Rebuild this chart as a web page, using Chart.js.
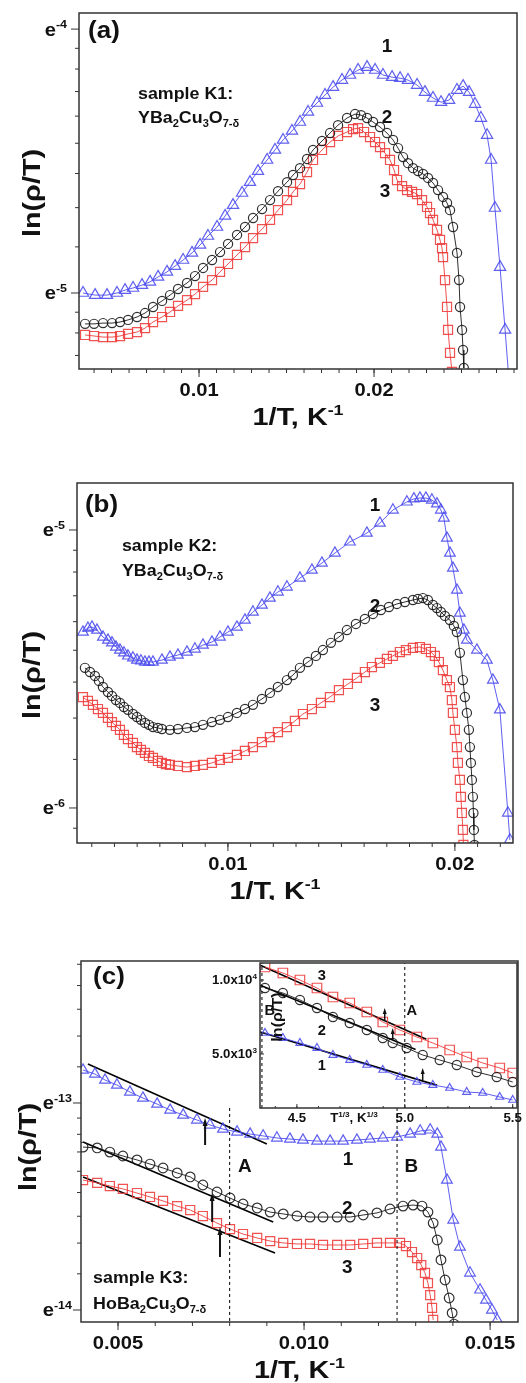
<!DOCTYPE html>
<html><head><meta charset="utf-8">
<script src="https://cdn.jsdelivr.net/npm/chart.js@4.4.0/dist/chart.umd.min.js"></script>
<style>
html,body{margin:0;padding:0;background:#fff;}
#wrap{position:relative;width:526px;height:1383px;overflow:hidden;background:#fff;}
canvas{position:absolute;}
</style></head><body>
<div id="wrap">
<canvas id="ca" width="526" height="430" style="left:0;top:0"></canvas>
<canvas id="cb" width="526" height="470" style="left:0;top:430px"></canvas>
<canvas id="cc" width="526" height="483" style="left:0;top:900px"></canvas>
<canvas id="ci" width="336" height="180" style="left:190px;top:955px"></canvas>
</div>
<script>
// ---------------- DATA ----------------
// Panel (a): sample K1, y = ln(rho/T) exponent
const a1x = [0.00337,0.00406,0.00474,0.00531,0.00577,0.00623,0.00674,0.0072,0.00766,0.00817,0.00863,0.00909,0.0096,0.01006,0.01051,0.01103,0.01149,0.01194,0.01246,0.01291,0.01337,0.01389,0.01434,0.0148,0.01531,0.01577,0.01623,0.01674,0.0172,0.01766,0.01817,0.01863,0.01909,0.0196,0.02006,0.02051,0.02103,0.02149,0.02194,0.02246,0.02291,0.02337,0.02383,0.02429,0.02474,0.02509,0.02543,0.02577,0.02611,0.02646,0.02669,0.02691,0.0272,0.02749,0.02771];
const a1y = [-5.000,-5.008,-5.008,-5.000,-4.989,-4.981,-4.970,-4.958,-4.939,-4.920,-4.898,-4.875,-4.848,-4.818,-4.784,-4.750,-4.708,-4.667,-4.621,-4.580,-4.538,-4.496,-4.458,-4.420,-4.386,-4.352,-4.314,-4.280,-4.250,-4.220,-4.193,-4.174,-4.155,-4.144,-4.155,-4.174,-4.182,-4.186,-4.193,-4.212,-4.239,-4.261,-4.277,-4.269,-4.231,-4.216,-4.239,-4.284,-4.337,-4.402,-4.496,-4.678,-4.902,-5.140,-5.330];
const a2x = [0.003486,0.004,0.004514,0.005029,0.005486,0.005943,0.006457,0.006914,0.007371,0.007886,0.008343,0.0088,0.009314,0.009771,0.010229,0.010743,0.0112,0.011657,0.012171,0.012629,0.013086,0.0136,0.014057,0.014514,0.015029,0.015371,0.015771,0.016171,0.016514,0.017029,0.017486,0.017943,0.018457,0.018914,0.019257,0.0196,0.019943,0.020343,0.020743,0.021086,0.021371,0.021657,0.021943,0.022229,0.022514,0.0228,0.023086,0.023371,0.023657,0.023943,0.024171,0.024343,0.024514,0.024743,0.024857,0.024914,0.025029,0.025086,0.02513];
const a2y = [-5.117,-5.117,-5.114,-5.114,-5.110,-5.102,-5.091,-5.076,-5.053,-5.030,-5.008,-4.985,-4.962,-4.936,-4.905,-4.875,-4.845,-4.814,-4.780,-4.750,-4.716,-4.682,-4.648,-4.614,-4.580,-4.553,-4.527,-4.492,-4.458,-4.424,-4.394,-4.364,-4.337,-4.322,-4.326,-4.337,-4.352,-4.371,-4.394,-4.420,-4.451,-4.485,-4.508,-4.527,-4.538,-4.549,-4.564,-4.583,-4.610,-4.636,-4.659,-4.686,-4.750,-4.848,-4.951,-5.053,-5.140,-5.216,-5.284];
const a3x = [0.003486,0.004,0.004514,0.005029,0.005486,0.005943,0.006457,0.006914,0.007371,0.007886,0.008343,0.0088,0.009314,0.009771,0.010229,0.010743,0.0112,0.011657,0.012171,0.012629,0.013086,0.0136,0.014057,0.014514,0.015029,0.015371,0.015771,0.016171,0.016514,0.017029,0.017486,0.017943,0.018457,0.0188,0.019086,0.019429,0.019771,0.020057,0.020343,0.020629,0.020914,0.021143,0.021314,0.0216,0.021886,0.022171,0.022457,0.022743,0.023029,0.0232,0.023371,0.0236,0.023771,0.023886,0.023943,0.024057,0.024171,0.024229,0.024343,0.024457];
const a3y = [-5.159,-5.163,-5.167,-5.167,-5.163,-5.155,-5.148,-5.133,-5.110,-5.091,-5.072,-5.049,-5.027,-5.004,-4.977,-4.951,-4.920,-4.890,-4.856,-4.826,-4.792,-4.758,-4.723,-4.686,-4.648,-4.617,-4.587,-4.542,-4.496,-4.458,-4.428,-4.405,-4.390,-4.379,-4.375,-4.390,-4.409,-4.428,-4.447,-4.470,-4.496,-4.534,-4.572,-4.595,-4.610,-4.617,-4.625,-4.648,-4.674,-4.697,-4.723,-4.761,-4.799,-4.830,-4.864,-4.951,-5.053,-5.140,-5.227,-5.299];

// Panel (b): sample K2
const b1x = [0.003612,0.003833,0.004009,0.004229,0.004493,0.004714,0.00489,0.005066,0.005242,0.005419,0.005595,0.005815,0.005991,0.006167,0.006344,0.00652,0.006696,0.007093,0.007445,0.007797,0.008194,0.008546,0.008899,0.009295,0.009648,0.01,0.010396,0.010749,0.011101,0.011498,0.01185,0.012203,0.012599,0.013172,0.0137,0.014141,0.014714,0.015374,0.016123,0.016696,0.017269,0.017885,0.018194,0.018458,0.018722,0.018987,0.019207,0.019383,0.019515,0.019648,0.01978,0.019912,0.020088,0.02022,0.020396,0.020529,0.020969,0.02141,0.021674,0.021982,0.022335,0.022423];
const b1y = [-5.367,-5.353,-5.349,-5.360,-5.385,-5.396,-5.406,-5.421,-5.432,-5.442,-5.453,-5.460,-5.468,-5.471,-5.475,-5.475,-5.475,-5.468,-5.457,-5.450,-5.439,-5.428,-5.414,-5.403,-5.385,-5.367,-5.349,-5.324,-5.295,-5.270,-5.245,-5.223,-5.205,-5.173,-5.144,-5.119,-5.083,-5.043,-5.011,-4.975,-4.928,-4.899,-4.888,-4.885,-4.885,-4.892,-4.906,-4.928,-4.957,-5.029,-5.083,-5.137,-5.216,-5.299,-5.360,-5.396,-5.432,-5.468,-5.540,-5.647,-6.018,-6.115];
const b2x = [0.0037,0.003921,0.004141,0.004317,0.004493,0.004714,0.00489,0.005066,0.005242,0.005419,0.005595,0.005815,0.005991,0.006167,0.006344,0.00652,0.006696,0.006916,0.007093,0.007445,0.007797,0.008194,0.008546,0.008899,0.009295,0.009648,0.01,0.010396,0.010749,0.011101,0.011498,0.01185,0.012203,0.012599,0.012863,0.013172,0.013524,0.013877,0.014185,0.014537,0.01489,0.015242,0.015639,0.016035,0.016388,0.01674,0.017093,0.017445,0.017797,0.01815,0.01837,0.01859,0.018811,0.019031,0.019207,0.019383,0.01956,0.01978,0.019956,0.020088,0.02022,0.020352,0.02044,0.020529,0.020617,0.020661,0.020705,0.020749,0.020793,0.020815,0.020837,0.02086];
const b2y = [-5.496,-5.511,-5.525,-5.543,-5.565,-5.583,-5.597,-5.612,-5.622,-5.637,-5.647,-5.662,-5.673,-5.683,-5.694,-5.701,-5.709,-5.712,-5.716,-5.719,-5.716,-5.712,-5.709,-5.701,-5.691,-5.683,-5.673,-5.658,-5.644,-5.629,-5.608,-5.586,-5.565,-5.540,-5.522,-5.496,-5.475,-5.453,-5.432,-5.406,-5.385,-5.360,-5.338,-5.320,-5.302,-5.288,-5.277,-5.266,-5.259,-5.252,-5.248,-5.245,-5.252,-5.270,-5.281,-5.295,-5.309,-5.324,-5.345,-5.367,-5.442,-5.540,-5.601,-5.658,-5.719,-5.781,-5.838,-5.899,-5.960,-6.018,-6.079,-6.133];
const b3x = [0.003612,0.003833,0.004053,0.004273,0.004493,0.004714,0.00489,0.005066,0.005242,0.005419,0.005595,0.005815,0.005991,0.006167,0.006344,0.00652,0.006696,0.006916,0.007093,0.007269,0.007445,0.007797,0.008194,0.008546,0.008899,0.009295,0.009648,0.01,0.010396,0.010749,0.011101,0.011498,0.01185,0.012203,0.012599,0.012952,0.013304,0.0137,0.014097,0.014493,0.01489,0.015286,0.015683,0.016035,0.016344,0.016696,0.017004,0.017269,0.017577,0.017841,0.01815,0.018458,0.018722,0.018943,0.019119,0.019295,0.019471,0.019648,0.01978,0.019868,0.019912,0.02,0.020088,0.020132,0.02022,0.020264,0.020308,0.020352,0.020374];
const b3y = [-5.601,-5.615,-5.629,-5.644,-5.658,-5.676,-5.691,-5.705,-5.719,-5.737,-5.752,-5.766,-5.781,-5.791,-5.802,-5.813,-5.820,-5.831,-5.838,-5.842,-5.845,-5.849,-5.853,-5.849,-5.845,-5.838,-5.827,-5.820,-5.809,-5.795,-5.781,-5.763,-5.745,-5.727,-5.709,-5.687,-5.662,-5.644,-5.622,-5.601,-5.576,-5.554,-5.532,-5.511,-5.493,-5.478,-5.464,-5.453,-5.439,-5.432,-5.424,-5.421,-5.428,-5.439,-5.453,-5.475,-5.504,-5.540,-5.565,-5.612,-5.658,-5.719,-5.781,-5.838,-5.899,-5.960,-6.018,-6.079,-6.133];

// Panel (c): sample K3
const c1x = [0.00406,0.00438,0.00465,0.00497,0.00532,0.00567,0.00605,0.0064,0.00675,0.00712,0.00747,0.00782,0.0082,0.00855,0.0089,0.00927,0.00962,0.00997,0.01035,0.0107,0.01105,0.01142,0.01177,0.01212,0.0125,0.01285,0.01312,0.01339,0.01358,0.01368,0.01384,0.01401,0.01419,0.01446,0.01473,0.01489,0.01505,0.01519];
const c1y = [-12.841,-12.860,-12.889,-12.913,-12.947,-12.976,-13.005,-13.034,-13.058,-13.082,-13.106,-13.126,-13.140,-13.150,-13.159,-13.169,-13.174,-13.179,-13.184,-13.184,-13.184,-13.179,-13.174,-13.169,-13.164,-13.150,-13.135,-13.130,-13.150,-13.213,-13.372,-13.565,-13.696,-13.821,-13.903,-13.952,-14.0,-14.048];
const c2x = [0.00406,0.00444,0.00478,0.00513,0.00551,0.00586,0.00621,0.00659,0.00694,0.00728,0.00766,0.00801,0.00836,0.00874,0.00909,0.00944,0.00981,0.01016,0.01051,0.01089,0.01124,0.01159,0.01196,0.01231,0.01266,0.01293,0.01317,0.01333,0.01347,0.01358,0.01368,0.01379,0.0139,0.01398,0.01403];
const c2y = [-13.213,-13.217,-13.237,-13.256,-13.275,-13.295,-13.314,-13.338,-13.357,-13.396,-13.430,-13.459,-13.488,-13.507,-13.527,-13.536,-13.546,-13.551,-13.551,-13.551,-13.551,-13.541,-13.531,-13.512,-13.498,-13.493,-13.498,-13.527,-13.580,-13.662,-13.758,-13.855,-13.942,-14.014,-14.068];
const c3x = [0.00406,0.00444,0.00478,0.00513,0.00551,0.00586,0.00621,0.00659,0.00694,0.00728,0.00766,0.00801,0.00836,0.00874,0.00909,0.00944,0.00981,0.01016,0.01051,0.01089,0.01124,0.01159,0.01196,0.01231,0.01258,0.01274,0.0129,0.01304,0.01315,0.01325,0.01333,0.01339,0.01344,0.01347];
const c3y = [-13.372,-13.386,-13.401,-13.415,-13.435,-13.454,-13.473,-13.498,-13.517,-13.546,-13.580,-13.609,-13.633,-13.652,-13.667,-13.676,-13.681,-13.681,-13.686,-13.686,-13.686,-13.681,-13.676,-13.676,-13.676,-13.691,-13.720,-13.749,-13.783,-13.821,-13.870,-13.928,-13.990,-14.048];
// linear fits in (c)
const cFit1x = [0.00419, 0.0090], cFit1y = [-12.812, -13.198];
const cFit2x = [0.00406, 0.00917], cFit2y = [-13.188, -13.575];
const cFit3x = [0.00406, 0.00922], cFit3y = [-13.357, -13.725];
const cMarkA = 0.008, cMarkB = 0.0125;

// Inset of (c)
const i1x = [4.352,4.435,4.514,4.593,4.667,4.745,4.824,4.898,4.977,5.056,5.130,5.208,5.287,5.361,5.440,5.500];
const i1y = [6419,6081,5743,5405,4932,4594,4257,3919,3446,3108,2905,2703,2432,2365,2095,1892];
const i2x = [4.352,4.435,4.514,4.593,4.667,4.745,4.824,4.898,4.944,5.009,5.083,5.162,5.241,5.333,5.426,5.500];
const i2y = [9459,9122,8649,8108,7500,7095,6622,6081,5743,5405,4932,4594,4257,3784,3446,3108];
const i3x = [4.352,4.435,4.514,4.593,4.667,4.745,4.824,4.898,4.977,5.056,5.130,5.208,5.287,5.361,5.440,5.500];
const i3y = [10878,10473,10000,9459,8851,8446,7838,7162,6622,6149,5743,5270,4797,4392,4054,3716];
const iFit1x = [4.33, 5.15], iFit1y = [6480, 2880];
const iFit2x = [4.33, 5.05], iFit2y = [9650, 5300];
const iFit3x = [4.33, 5.10], iFit3y = [11000, 6000];
const iMarkA = 5.0, iMarkB = 4.338;

// axis ticks
const aXTicks = [0.01, 0.02], aXLabels = ['0.01', '0.02'], aYExp = [-5, -4];
const bXTicks = [0.01, 0.02], bXLabels = ['0.01', '0.02'], bYExp = [-6, -5];
const cXTicks = [0.005, 0.010, 0.015], cXLabels = ['0.005', '0.010', '0.015'], cYExp = [-14, -13];
const iXTicks = [4.5, 5.0, 5.5], iXLabels = ['4.5', '5.0', '5.5'];
const iYTicks = [5000, 10000], iYMant = ['5.0x10', '1.0x10'], iYPow = ['3', '4'];

// ---------------- DRAWING HELPERS ----------------
const FONT = '"Liberation Sans", Arial, Helvetica, sans-serif';
function rich(ctx, parts, x, y, o) {
  const size = o.size, w = o.weight || 'bold', sx = o.sx || 1;
  ctx.save();
  ctx.translate(x, y);
  if (o.rot) ctx.rotate(o.rot);
  ctx.scale(sx, 1);
  ctx.fillStyle = o.color || '#111';
  ctx.textBaseline = 'alphabetic';
  const segs = parts.map(p => {
    const fs = p[1] ? size * 0.62 : size;
    ctx.font = w + ' ' + fs + 'px ' + FONT;
    return { t: p[0], m: p[1], fs, w: ctx.measureText(p[0]).width };
  });
  const total = segs.reduce((s, g) => s + g.w, 0);
  let cx = o.align === 'center' ? -total / 2 : o.align === 'right' ? -total : 0;
  const base = size * 0.36;
  for (const g of segs) {
    ctx.font = w + ' ' + g.fs + 'px ' + FONT;
    const dy = g.m === 1 ? -size * 0.42 : g.m === -1 ? size * 0.24 : 0;
    ctx.fillText(g.t, cx, base + dy);
    cx += g.w;
  }
  ctx.restore();
}
const expLabel = n => [['e', 0], ['-' + (-n), 1]];
const formula = (pre) => [[pre, 0], ['2', -1], ['Cu', 0], ['3', -1], ['O', 0], ['7-\u03b4', -1]];

const cfgs = {};
const decor = {
  id: 'decor',
  afterDraw(chart) {
    const c = cfgs[chart.canvas.id]; if (!c) return;
    const ctx = chart.ctx, a = chart.chartArea, X = chart.scales.x, Y = chart.scales.y;
    ctx.save();
    ctx.strokeStyle = '#333'; ctx.lineWidth = c.frameW;
    ctx.strokeRect(a.left, a.top, a.right - a.left, a.bottom - a.top);
    ctx.lineWidth = 1;
    const s = c.tickOut ? 1 : -1;
    const xt = (v, len) => { const p = X.getPixelForValue(v); if (p < a.left - 0.5 || p > a.right + 0.5) return; ctx.beginPath(); ctx.moveTo(p, a.bottom); ctx.lineTo(p, a.bottom + s * len); ctx.stroke(); };
    const yt = (v, len) => { const p = Y.getPixelForValue(v); if (p < a.top - 0.5 || p > a.bottom + 0.5) return; ctx.beginPath(); ctx.moveTo(a.left, p); ctx.lineTo(a.left - s * len, p); ctx.stroke(); };
    if (c.xMinorStep) { const st = c.xMinorStep; for (let k = Math.ceil(X.min / st - 1e-9); k * st <= X.max + 1e-12; k++) xt(k * st, c.minorLen); }
    c.xMajor.forEach(v => xt(v, c.majorLen));
    if (c.yLogMinor) {
      for (let n = Math.floor(Y.min); n <= Math.ceil(Y.max); n++) {
        const lo = Math.exp(n), hi = Math.exp(n + 1);
        for (let k = 1; k < 9; k++) yt(Math.log(lo + k * (hi - lo) / 9), c.minorLen);
      }
    }
    c.yMajor.forEach(v => yt(v, c.majorLen));
    const tf = { size: c.tickSize, sx: c.tickSx };
    c.xMajor.forEach((v, i) => rich(ctx, [[c.xLabels[i], 0]], X.getPixelForValue(v), a.bottom + c.xLabelDy, Object.assign({ align: 'center' }, tf)));
    c.yMajor.forEach((v, i) => rich(ctx, c.yLabels[i], a.left - c.yLabelDx, Y.getPixelForValue(v), Object.assign({ align: 'right' }, tf)));
    rich(ctx, c.xTitle, c.xTitleX != null ? c.xTitleX : (a.left + a.right) / 2, a.bottom + c.xTitleDy, { size: c.titleSize, sx: c.titleSx, align: 'center' });
    rich(ctx, c.yTitle, c.yTitleX, c.yTitleY != null ? c.yTitleY : (a.top + a.bottom) / 2, { size: c.yTitleSize || c.titleSize, sx: c.yTitleSx || c.titleSx, align: 'center', rot: -Math.PI / 2 });
    c.texts.forEach(t => rich(ctx, t.parts, X.getPixelForValue(t.x), Y.getPixelForValue(t.y), t));
    (c.arrows || []).forEach(ar => {
      const px = X.getPixelForValue(ar.x), y0 = Y.getPixelForValue(ar.y0), y1 = Y.getPixelForValue(ar.y1);
      ctx.strokeStyle = '#111'; ctx.fillStyle = '#111'; ctx.lineWidth = ar.w;
      ctx.beginPath(); ctx.moveTo(px, y0); ctx.lineTo(px, y1 + ar.head); ctx.stroke();
      ctx.beginPath(); ctx.moveTo(px, y1); ctx.lineTo(px - ar.hw, y1 + ar.head + 1); ctx.lineTo(px + ar.hw, y1 + ar.head + 1); ctx.closePath(); ctx.fill();
    });
    ctx.restore();
  }
};

const pts = (xs, ys) => xs.map((x, i) => ({ x, y: ys[i] }));
const STY = {
  blue: { ps: 'triangle', r: 6.5, col: 'rgba(78,78,238,0.9)' },
  black: { ps: 'circle', r: 4.6, col: 'rgba(25,25,25,0.9)' },
  red: { ps: 'rect', r: 6.4, col: 'rgba(238,62,62,0.9)' }
};
function series(xs, ys, kind, k) {
  const s = STY[kind];
  return { data: pts(xs, ys), showLine: true, borderWidth: 1, borderColor: s.col, pointBorderColor: s.col,
    pointBackgroundColor: 'rgba(0,0,0,0)', pointStyle: s.ps, pointRadius: s.r * (k || 1), pointBorderWidth: 1.2, tension: 0 };
}
function guide(xs, ys, dash) {
  return { data: pts(xs, ys), showLine: true, borderColor: '#000', borderWidth: dash ? 1 : 1.6, borderDash: dash ? [3, 3] : [], pointRadius: 0 };
}
function makeChart(id, datasets, xr, yr, area, W, H) {
  return new Chart(document.getElementById(id), {
    type: 'scatter',
    data: { datasets },
    options: {
      responsive: false, animation: false, devicePixelRatio: 1,
      layout: { padding: { left: 0, top: area.top, right: W - area.right, bottom: 0 } },
      plugins: { legend: { display: false }, tooltip: { enabled: false } },
      scales: {
        x: { type: 'linear', min: xr[0], max: xr[1], ticks: { display: false }, grid: { display: false }, border: { display: false },
             afterFit: sc => { sc.height = H - area.bottom; } },
        y: { type: 'linear', min: yr[0], max: yr[1], ticks: { display: false }, grid: { display: false }, border: { display: false },
             afterFit: sc => { sc.width = area.left; } }
      }
    },
    plugins: [decor]
  });
}

const xTitle = [['1/T, K', 0], ['-1', 1]];
const yTitle = [['ln(\u03c1/T)', 0]];
const common = { frameW: 1.5, tickOut: true, majorLen: 8, minorLen: 4, tickSize: 18, tickSx: 1.12,
  xLabelDy: 21, yLabelDx: 12, titleSize: 24, titleSx: 1.2, xTitleDy: 47, xTitle, yTitle, yTitleX: 31, yTitleSize: 24, yTitleSx: 1.2, yLogMinor: true };
const big = { size: 18, align: 'center', sx: 1.05 };
const samp = { size: 17, align: 'left', sx: 1.05 };

// ---- panel (a)
cfgs.ca = Object.assign({}, common, {
  xMajor: aXTicks, xLabels: aXLabels, xMinorStep: 0.001, yMajor: aYExp, yLabels: aYExp.map(expLabel), yTitleY: 193,
  texts: [
    Object.assign({ parts: [['(a)', 0]], x: 0.00366, y: -4.0 }, { size: 24, align: 'left', sx: 1.08 }),
    Object.assign({ parts: [['1', 0]], x: 0.02074, y: -4.061 }, big),
    Object.assign({ parts: [['2', 0]], x: 0.02074, y: -4.333 }, big),
    Object.assign({ parts: [['3', 0]], x: 0.02063, y: -4.610 }, big),
    Object.assign({ parts: [['sample K1:', 0]], x: 0.00651, y: -4.242 }, samp),
    Object.assign({ parts: formula('YBa'), x: 0.00651, y: -4.333 }, samp)
  ]
});
makeChart('ca', [series(a1x, a1y, 'blue'), series(a2x, a2y, 'black'), series(a3x, a3y, 'red')],
  [0.00314, 0.02817], [-5.288, -3.939], { left: 79, right: 517, top: 13, bottom: 369 }, 526, 430);

// ---- panel (b)
cfgs.cb = Object.assign({}, common, {
  xMajor: bXTicks, xLabels: bXLabels, xMinorStep: 0.001, yMajor: bYExp, yLabels: bYExp.map(expLabel), yTitleY: 245, xTitleX: 275,
  texts: [
    Object.assign({ parts: [['(b)', 0]], x: 0.0037, y: -4.903 }, { size: 24, align: 'left', sx: 1.08 }),
    Object.assign({ parts: [['1', 0]], x: 0.01648, y: -4.910 }, big),
    Object.assign({ parts: [['2', 0]], x: 0.01648, y: -5.270 }, big),
    Object.assign({ parts: [['3', 0]], x: 0.01648, y: -5.629 }, big),
    Object.assign({ parts: [['sample K2:', 0]], x: 0.00533, y: -5.054 }, samp),
    Object.assign({ parts: formula('YBa'), x: 0.00533, y: -5.144 }, samp)
  ]
});
makeChart('cb', [series(b1x, b1y, 'blue', 0.95), series(b2x, b2y, 'black'), series(b3x, b3y, 'red')],
  [0.00335, 0.02256], [-6.126, -4.831], { left: 77, right: 513, top: 53, bottom: 413 }, 526, 470);

// ---- panel (c)
cfgs.cc = Object.assign({}, common, {
  xMajor: cXTicks, xLabels: cXLabels, xMinorStep: 0.001, yMajor: cYExp, yLabels: cYExp.map(expLabel), yTitleY: 247, yTitleX: 27, yLabelDx: 9,
  texts: [
    Object.assign({ parts: [['(c)', 0]], x: 0.00433, y: -12.382 }, { size: 24, align: 'left', sx: 1.08 }),
    Object.assign({ parts: [['1', 0]], x: 0.01118, y: -13.266 }, big),
    Object.assign({ parts: [['2', 0]], x: 0.01116, y: -13.507 }, big),
    Object.assign({ parts: [['3', 0]], x: 0.01116, y: -13.792 }, big),
    Object.assign({ parts: [['A', 0]], x: 0.00841, y: -13.304 }, big),
    Object.assign({ parts: [['B', 0]], x: 0.01288, y: -13.304 }, big),
    Object.assign({ parts: [['sample K3:', 0]], x: 0.00433, y: -13.841 }, samp),
    Object.assign({ parts: formula('HoBa'), x: 0.00433, y: -13.966 }, samp)
  ],
  arrows: [
    { x: 0.00734, y0: -13.203, y1: -13.072, w: 2, head: 7, hw: 2.5 },
    { x: 0.00753, y0: -13.575, y1: -13.435, w: 2, head: 7, hw: 2.5 },
    { x: 0.00774, y0: -13.744, y1: -13.599, w: 2, head: 7, hw: 2.5 }
  ]
});
makeChart('cc', [
  guide([cMarkA, cMarkA], [-13.024, -14.058], true), guide([cMarkB, cMarkB], [-13.024, -14.058], true),
  series(c1x, c1y, 'blue', 0.95), series(c2x, c2y, 'black', 1.05), series(c3x, c3y, 'red'),
  guide(cFit1x, cFit1y), guide(cFit2x, cFit2y), guide(cFit3x, cFit3y)],
  [0.004005, 0.01575], [-14.058, -12.314], { left: 81, right: 518, top: 61, bottom: 422 }, 526, 483);

// ---- inset
const small = { size: 14, align: 'center', sx: 1.05 };
cfgs.ci = {
  frameW: 1.5, tickOut: false, majorLen: 4, minorLen: 2, tickSize: 12, tickSx: 1.1, xLabelDy: 10, yLabelDx: 3,
  titleSize: 12, titleSx: 1.1, xTitleDy: 10, xTitleX: 164, yTitleX: 87, yTitleY: 62, yTitleSize: 14, yTitleSx: 1.15,
  xTitle: [['T', 0], ['1/3', 1], [', K', 0], ['1/3', 1]], yTitle,
  xMajor: iXTicks, xLabels: iXLabels, xMinorStep: 0.1, yMajor: iYTicks,
  yLabels: iYTicks.map((v, i) => [[iYMant[i], 0], [iYPow[i], 1]]),
  texts: [
    Object.assign({ parts: [['3', 0]], x: 4.616, y: 10338 }, small),
    Object.assign({ parts: [['2', 0]], x: 4.616, y: 6622 }, small),
    Object.assign({ parts: [['1', 0]], x: 4.616, y: 4257 }, small),
    Object.assign({ parts: [['A', 0]], x: 5.032, y: 7973 }, small),
    Object.assign({ parts: [['B', 0]], x: 4.375, y: 7973 }, small)
  ],
  arrows: [
    { x: 4.907, y0: 7297, y1: 8108, w: 1.5, head: 5, hw: 2 },
    { x: 4.944, y0: 5946, y1: 6757, w: 1.5, head: 5, hw: 2 },
    { x: 5.083, y0: 3243, y1: 4054, w: 1.5, head: 5, hw: 2 }
  ]
};
makeChart('ci', [
  guide([iMarkA, iMarkA], [1351, 11149], true), guide([iMarkB, iMarkB], [1351, 11149], true),
  series(i1x, i1y, 'blue', 0.7), series(i2x, i2y, 'black', 1.0), series(i3x, i3y, 'red', 1.05),
  guide(iFit1x, iFit1y), guide(iFit2x, iFit2y), guide(iFit3x, iFit3y)],
  [4.329, 5.52], [1351, 11149], { left: 70, right: 327, top: 8, bottom: 153 }, 336, 180);
</script>
</body></html>
